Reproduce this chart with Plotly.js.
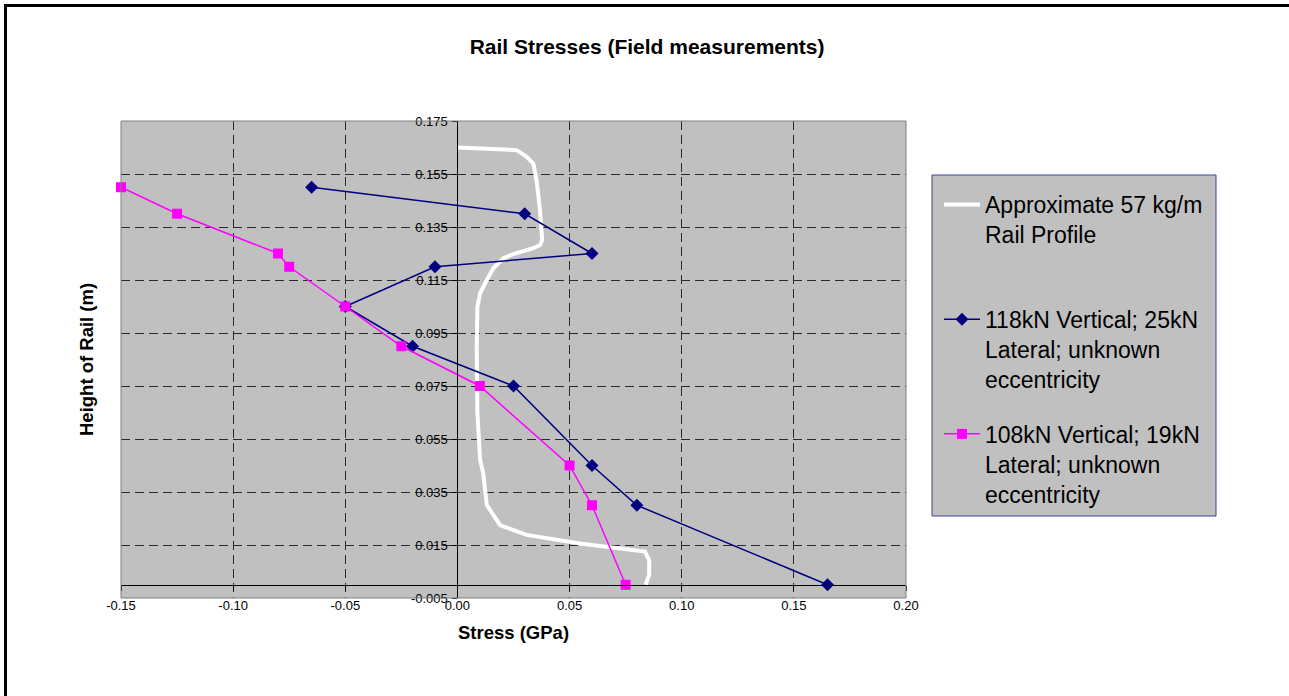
<!DOCTYPE html>
<html>
<head>
<meta charset="utf-8">
<script src="https://cdn.plot.ly/plotly-3.0.1.min.js"></script>
<style>
  html, body { margin: 0; padding: 0; background: #fff; overflow: hidden; }
  #wrap { position: relative; width: 1289px; height: 696px; overflow: hidden; }
  #chart { position: absolute; left: 0; top: 0; width: 1289px; height: 696px; }
  #frame { position: absolute; left: 4px; top: 4px; width: 1400px; height: 800px;
           border-top: 3px solid #000; border-left: 3px solid #000; pointer-events: none; }
</style>
</head>
<body>
<div id="wrap">
  <div id="chart"></div>
  <div id="frame"></div>
</div>
<script>
// ---- Data ----
const profileX = [0.0, 0.0264, 0.0309, 0.0338, 0.0353, 0.0368, 0.0378, 0.0368, 0.0338, 0.0249, 0.0205, 0.016, 0.0131, 0.0101, 0.0089, 0.0086, 0.0089, 0.0101, 0.0115, 0.0131, 0.019, 0.0309, 0.0546, 0.0836, 0.0855, 0.0855, 0.0839];
const profileY = [0.165, 0.164, 0.1615, 0.159, 0.1527, 0.1414, 0.1301, 0.1282, 0.127, 0.1248, 0.1232, 0.1194, 0.115, 0.11, 0.1049, 0.0898, 0.0648, 0.0471, 0.0421, 0.0301, 0.0225, 0.0188, 0.0156, 0.0125, 0.0093, 0.0037, 0.0];

const s118X = [-0.065, 0.03, 0.06, -0.01, -0.05, -0.02, 0.025, 0.06, 0.08, 0.165];
const s118Y = [0.15, 0.14, 0.125, 0.12, 0.105, 0.09, 0.075, 0.045, 0.03, 0.0];

const s108X = [-0.15, -0.125, -0.08, -0.075, -0.05, -0.025, 0.01, 0.05, 0.06, 0.075];
const s108Y = [0.15, 0.14, 0.125, 0.12, 0.105, 0.09, 0.075, 0.045, 0.03, 0.0];

const seriesNames = [
  'Approximate 57 kg/m<br>Rail Profile<br>&nbsp;',
  '118kN Vertical; 25kN<br>Lateral; unknown<br>eccentricity',
  '108kN Vertical; 19kN<br>Lateral; unknown<br>eccentricity'
];

const xTickVals = [-0.15, -0.10, -0.05, 0.00, 0.05, 0.10, 0.15, 0.20];
const xTickText = ['-0.15', '-0.10', '-0.05', '0.00', '0.05', '0.10', '0.15', '0.20'];
const yTickVals = [-0.005, 0.015, 0.035, 0.055, 0.075, 0.095, 0.115, 0.135, 0.155, 0.175];
const yTickText = ['-0.005', '0.015', '0.035', '0.055', '0.075', '0.095', '0.115', '0.135', '0.155', '0.175'];

const titleText = 'Rail Stresses (Field measurements)';
const xTitle = 'Stress (GPa)';
const yTitle = 'Height of Rail (m)';

// ---- Layout helpers ----
const W = 1289, H = 696;
const L = 121, R = 383, T = 121, B = 98;
const pw = W - L - R, ph = H - T - B;
const px = v => (v - L) / pw;          // pixel x -> paper
const py = v => (H - B - v) / ph;      // pixel y -> paper

const FONT = 'Arial, "Liberation Sans", sans-serif';
const xRange = [-0.15, 0.20];
const yRange = [-0.005, 0.175];

const traces = [
  {
    x: profileX, y: profileY, name: seriesNames[0], type: 'scatter', mode: 'lines',
    line: { color: '#ffffff', width: 4 }, legendgroup: 'a', cliponaxis: false
  },
  {
    x: s118X, y: s118Y, name: seriesNames[1], type: 'scatter', mode: 'lines+markers',
    line: { color: '#000080', width: 1.5 },
    marker: { symbol: 'diamond', size: 10, color: '#000080' },
    legendgroup: 'b', cliponaxis: false
  },
  {
    x: s108X, y: s108Y, name: seriesNames[2], type: 'scatter', mode: 'lines+markers',
    line: { color: '#ff00ff', width: 1.5 },
    marker: { symbol: 'square', size: 10, color: '#ff00ff' },
    legendgroup: 'c', cliponaxis: false
  }
];

const layout = {
  width: W, height: H, autosize: false,
  margin: { l: L, r: R, t: T, b: B, pad: 0 },
  paper_bgcolor: '#ffffff',
  plot_bgcolor: '#c0c0c0',
  font: { family: FONT, color: '#000000', size: 13 },
  title: {
    text: titleText, x: 0.502, xanchor: 'center', xref: 'container',
    y: 1 - 47 / H, yanchor: 'middle', yref: 'container',
    font: { family: FONT, size: 21, weight: 'bold', color: '#000' }
  },
  showlegend: true,
  legend: {
    x: px(939), xanchor: 'left', y: py(183), yanchor: 'top',
    bgcolor: 'rgba(0,0,0,0)', borderwidth: 0,
    font: { family: FONT, size: 23, color: '#000' },
    valign: 'top', itemwidth: 36, tracegroupgap: 22, traceorder: 'grouped'
  },
  xaxis: {
    range: xRange, autorange: false,
    anchor: 'free', position: (0 - yRange[0]) / (yRange[1] - yRange[0]),
    showline: true, linecolor: '#000', linewidth: 1,
    zeroline: false,
    tickmode: 'array', tickvals: xTickVals, ticktext: xTickText,
    ticks: 'outside', ticklen: 5, tickcolor: '#000', tickwidth: 1,
    ticklabelstandoff: 4,
    tickfont: { family: FONT, size: 13, color: '#000' },
    showgrid: true, gridcolor: '#2a2a2a', gridwidth: 1, griddash: '9px,5px'
  },
  yaxis: {
    range: yRange, autorange: false,
    anchor: 'free', position: (0 - xRange[0]) / (xRange[1] - xRange[0]),
    showline: true, linecolor: '#000', linewidth: 1,
    zeroline: false,
    tickmode: 'array', tickvals: yTickVals, ticktext: yTickText,
    ticks: 'outside', ticklen: 5, tickcolor: '#000', tickwidth: 1,
    ticklabelstandoff: 2,
    tickfont: { family: FONT, size: 13, color: '#000' },
    showgrid: true, gridcolor: '#2a2a2a', gridwidth: 1, griddash: '9px,5px'
  },
  annotations: [
    {
      text: xTitle, xref: 'paper', yref: 'paper', x: px(513), y: py(632),
      xanchor: 'center', yanchor: 'middle', showarrow: false,
      font: { family: FONT, size: 18.5, weight: 'bold', color: '#000' }
    },
    {
      text: yTitle, xref: 'paper', yref: 'paper', x: px(86), y: py(360),
      xanchor: 'center', yanchor: 'middle', showarrow: false, textangle: -90,
      font: { family: FONT, size: 18.5, weight: 'bold', color: '#000' }
    }
  ],
  shapes: [
    // plot area border
    { type: 'rect', xref: 'paper', yref: 'paper', x0: 0, x1: 1, y0: 0, y1: 1,
      line: { color: '#808080', width: 1 }, fillcolor: 'rgba(0,0,0,0)', layer: 'above' },
    // legend box
    { type: 'rect', xref: 'paper', yref: 'paper', x0: px(932), x1: px(1216), y0: py(516), y1: py(175),
      line: { color: '#40409a', width: 1 }, fillcolor: '#c0c0c0', layer: 'below' }
  ]
};

Plotly.newPlot('chart', traces, layout, { displayModeBar: false, staticPlot: true });
</script>
</body>
</html>
